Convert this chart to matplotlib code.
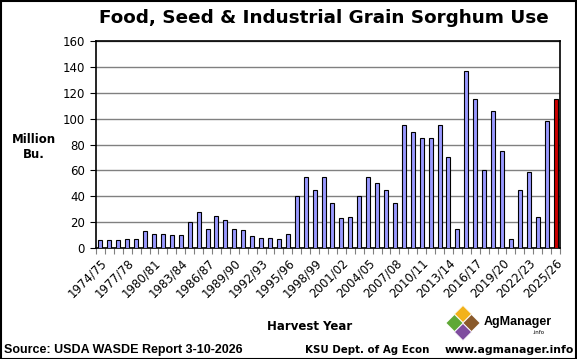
import matplotlib
matplotlib.use('Agg')
import matplotlib.pyplot as plt
from matplotlib.patches import Polygon, Rectangle
import numpy as np

# harvest years 1974/75 .. 2025/26
years = ['%d/%02d' % (y, (y + 1) % 100) for y in range(1974, 2026)]
use = [6, 6, 6, 7, 7, 13, 11, 11, 10, 10,
       20, 28, 15, 25, 22, 15, 14, 9, 8, 8,
       7, 11, 40, 55, 45, 55, 35, 23, 24, 40,
       55, 50, 45, 35, 95, 90, 85, 85, 95, 70,
       15, 137, 115, 60, 106, 75, 7, 45, 59, 24,
       98, 115]
bar_colors = ['#9999FF'] * (len(use) - 1) + ['#CC0000']

W, H = 577, 359
fig = plt.figure(figsize=(W / 100, H / 100), dpi=100)
plt.rcParams['font.family'] = 'DejaVu Sans'

# plot area in pixels: left 96, right 560, top 41, bottom 248
ax = fig.add_axes([96 / W, 1 - 248 / H, (560 - 96) / W, (248 - 41) / H])
x = np.arange(len(use))
ax.bar(x, use, width=0.45, color=bar_colors, edgecolor='black', linewidth=0.8, zorder=3)
ax.set_xlim(-0.5, len(use) - 0.5)
ax.set_ylim(0, 160)
ax.set_yticks(np.arange(0, 161, 20))
ax.yaxis.grid(True, color='#808080', linewidth=1.0, zorder=0)
ax.tick_params(axis='y', labelsize=8.5, length=4, width=0.8, pad=4)

ax.set_xticks(x[::3])
ax.set_xticklabels(years[::3], rotation=45, ha='right', rotation_mode='anchor', fontsize=8.5)
ax.set_xticks(np.arange(-0.5, len(use), 1), minor=True)
ax.tick_params(axis='x', which='major', length=0, pad=6)
ax.tick_params(axis='x', which='minor', length=4, width=0.8, color='#808080')
for s in ax.spines.values():
    s.set_linewidth(1.2)

fig.text(324 / W, 1 - 18 / H, 'Food, Seed & Industrial Grain Sorghum Use',
         ha='center', va='center', fontsize=13.2, fontweight='bold')
fig.text(34 / W, 1 - 147 / H, 'Million\nBu.', ha='center', va='center',
         fontsize=8.5, fontweight='bold', linespacing=1.2)
fig.text(310 / W, 1 - 327 / H, 'Harvest Year', ha='center', va='center',
         fontsize=8.5, fontweight='bold')
fig.text(4 / W, 1 - 350 / H, 'Source: USDA WASDE Report 3-10-2026', ha='left',
         va='center', fontsize=9, fontweight='bold', family='Liberation Sans')
fig.text(367 / W, 1 - 350 / H, 'KSU Dept. of Ag Econ', ha='center', va='center',
         fontsize=7.4, fontweight='bold')
fig.text(574 / W, 1 - 350 / H, 'www.agmanager.info', ha='right', va='center',
         fontsize=7.8, fontweight='bold')

# logo: four diamonds + text
def diamond(cx, cy, r, color):
    pts = [(cx / W, 1 - (cy - r) / H), ((cx + r) / W, 1 - cy / H),
           (cx / W, 1 - (cy + r) / H), ((cx - r) / W, 1 - cy / H)]
    fig.patches.append(Polygon(pts, closed=True, transform=fig.transFigure,
                               facecolor=color, edgecolor='white', linewidth=0.5))

diamond(463, 314, 8.5, '#F2B21A')
diamond(454.5, 323, 8.5, '#5FA836')
diamond(471.5, 323, 8.5, '#8A5A2B')
diamond(463, 332, 8.5, '#7E4C9E')
fig.text(484 / W, 1 - 322 / H, 'AgManager', ha='left', va='center',
         fontsize=9, fontweight='bold', family='Liberation Sans')
fig.text(545 / W, 1 - 332 / H, '.info', ha='right', va='center', fontsize=4)

fig.patches.append(Rectangle((0.5 / W, 0.5 / H), 1 - 1.5 / W, 1 - 1.5 / H,
                             transform=fig.transFigure, fill=False,
                             edgecolor='black', linewidth=1.5))

fig.savefig('out.png', dpi=100)
